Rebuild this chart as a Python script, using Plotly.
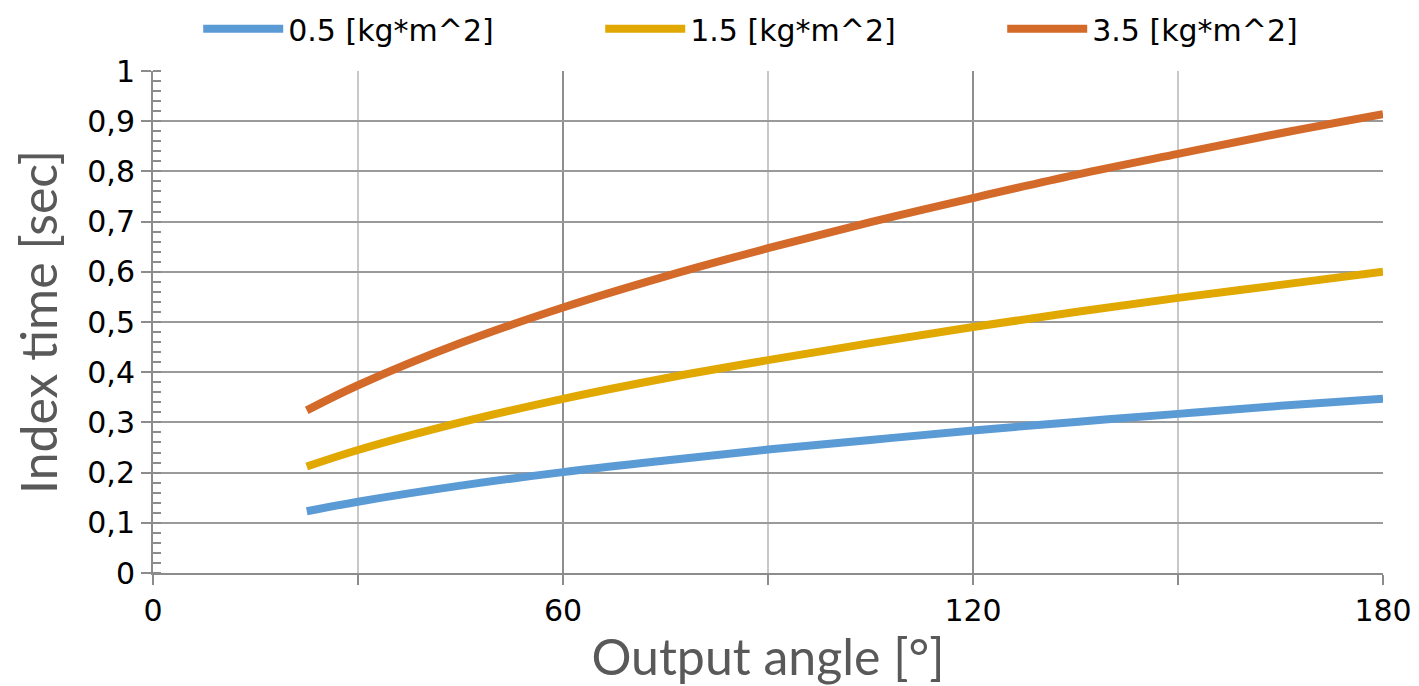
import plotly.graph_objects as go

angles = [22.5, 30, 45, 60, 75, 90, 105, 120, 135, 150, 165, 180]
series_names = ["0.5 [kg*m^2]", "1.5 [kg*m^2]", "3.5 [kg*m^2]"]
time_05 = [0.123, 0.142, 0.174, 0.201, 0.224, 0.246, 0.265, 0.284, 0.301, 0.317, 0.333, 0.347]
time_15 = [0.212, 0.245, 0.300, 0.347, 0.388, 0.424, 0.458, 0.490, 0.520, 0.548, 0.574, 0.600]
time_35 = [0.324, 0.374, 0.458, 0.529, 0.591, 0.647, 0.699, 0.747, 0.793, 0.835, 0.876, 0.914]
colors = ["#5B9BD5", "#E0A800", "#D36A2A"]

fig = go.Figure()
for name, ys, c in zip(series_names, [time_05, time_15, time_35], colors):
    fig.add_trace(go.Scatter(x=angles, y=ys, name=name, mode="lines",
                             line=dict(color=c, width=8, shape="spline")))

tick_font = dict(family="DejaVu Sans", size=30, color="#000000")
title_font = dict(family="Lato", size=50, color="#595959")

fig.update_layout(
    width=1411, height=678,
    margin=dict(l=145, r=36, t=63, b=113, autoexpand=False),
    paper_bgcolor="white", plot_bgcolor="white",
    separators=", ",
    showlegend=True,
    legend=dict(orientation="h", x=0.527, xanchor="center", y=1.084, yanchor="middle",
                font=dict(family="DejaVu Sans", size=30, color="#000000"),
                itemwidth=80, entrywidth=307, entrywidthmode="pixels",
                bgcolor="rgba(0,0,0,0)"),
    xaxis=dict(range=[0, 180], dtick=60, tick0=0,
               showgrid=True, gridcolor="#8f8f8f", gridwidth=2,
               showline=True, linecolor="#8c8c8c", linewidth=2,
               ticks="outside", ticklen=10, tickwidth=2, tickcolor="#8c8c8c",
               zeroline=False, tickfont=tick_font,
               minor=dict(dtick=30, showgrid=True, gridcolor="#c8c8c8", gridwidth=2,
                          ticks="outside", ticklen=10, tickwidth=2, tickcolor="#8c8c8c"),
               title=dict(text="Output angle [°]", font=title_font, standoff=6)),
    yaxis=dict(range=[0, 1], dtick=0.1, tick0=0,
               showgrid=True, gridcolor="#9a9a9a", gridwidth=2,
               showline=True, linecolor="#8c8c8c", linewidth=2,
               ticks="outside", ticklen=10, tickwidth=2, tickcolor="#8c8c8c",
               zeroline=False, tickfont=tick_font,
               minor=dict(dtick=0.02, showgrid=False,
                          ticks="inside", ticklen=8, tickwidth=2, tickcolor="#8c8c8c"),
               title=dict(text="Index time [sec]", font=title_font, standoff=20)),
)

fig.write_html("out.html")
